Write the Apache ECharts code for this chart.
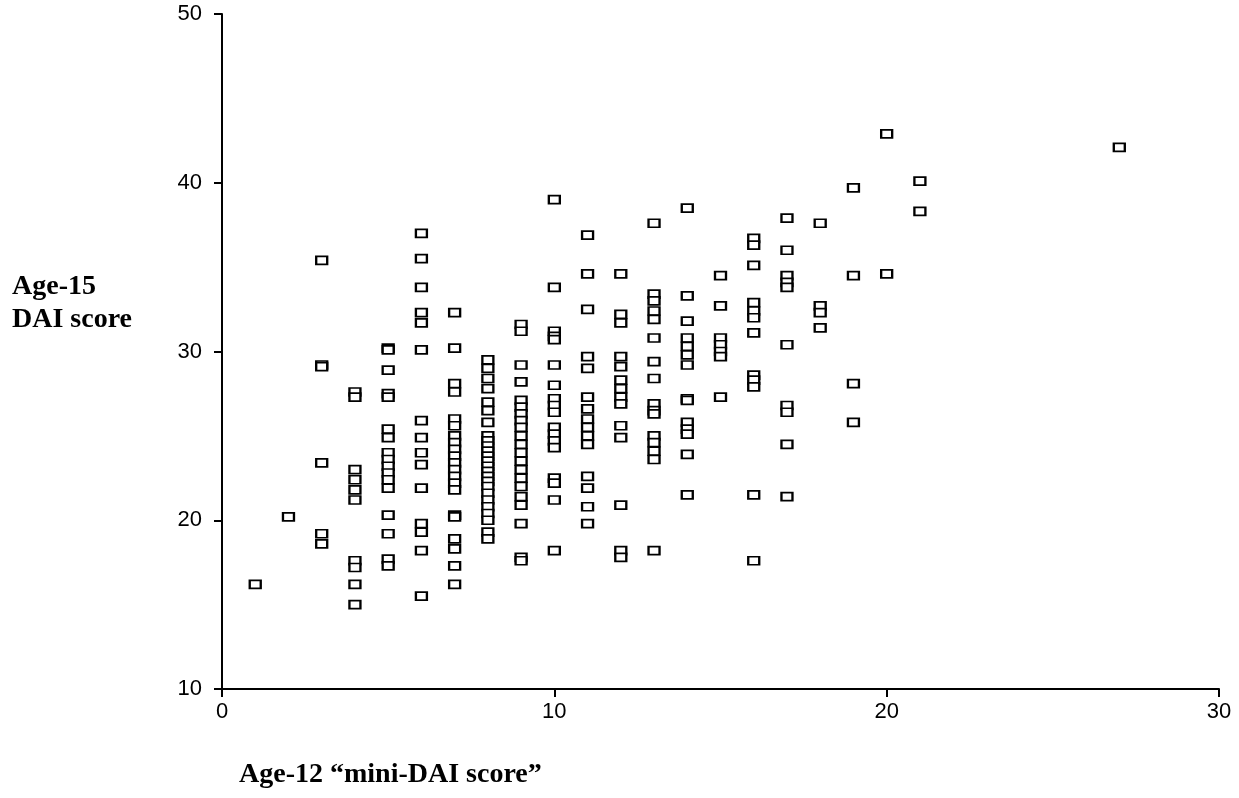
<!DOCTYPE html>
<html>
<head>
<meta charset="utf-8">
<script src="https://cdn.jsdelivr.net/npm/echarts@6/dist/echarts.min.js"></script>
<style>
    html, body { margin: 0; padding: 0; background: #fff; }
    #chart { width: 1239px; height: 798px; }
</style>
</head>
<body>
<div id="chart"></div>
<script>
const miniDaiScores = [1, 2, 3, 4, 5, 6, 7, 8, 9, 10, 11, 12, 13, 14, 15, 16, 17, 18, 19, 20, 21, 27]
const daiScores = [
    [16.2],
    [20.2],
    [35.4, 29.2, 29.1, 23.4, 19.2, 18.6],
    [27.6, 27.3, 23.0, 22.4, 21.8, 21.2, 17.6, 17.2, 16.2, 15.0],
    [30.2, 30.1, 28.9, 27.5, 27.3, 25.4, 24.9, 24.0, 23.6, 23.2, 22.8, 22.4, 21.9, 20.3, 19.2, 17.7, 17.3],
    [37.0, 35.5, 33.8, 32.3, 31.7, 30.1, 25.9, 24.9, 24.0, 23.3, 21.9, 19.8, 19.3, 18.2, 15.5],
    [32.3, 30.2, 28.1, 27.6, 26.0, 25.6, 25.0, 24.6, 24.2, 23.8, 23.4, 23.0, 22.6, 22.2, 21.8, 20.3, 20.2, 18.9, 18.3, 17.3, 16.2],
    [29.5, 29.0, 28.4, 27.8, 27.0, 26.5, 25.8, 25.0, 24.7, 24.4, 24.1, 23.8, 23.5, 23.2, 22.9, 22.6, 22.3, 22.0, 21.6, 21.2, 20.8, 20.4, 20.0, 19.3, 18.9],
    [31.6, 31.2, 29.2, 28.2, 27.1, 26.7, 26.3, 25.9, 25.5, 25.0, 24.5, 24.0, 23.5, 23.0, 22.5, 22.0, 21.4, 20.9, 19.8, 17.8, 17.6],
    [39.0, 33.8, 31.2, 30.9, 30.7, 29.2, 28.0, 27.2, 26.8, 26.4, 25.5, 25.1, 24.7, 24.3, 22.5, 22.2, 21.2, 18.2],
    [36.9, 34.6, 32.5, 29.7, 29.0, 27.3, 26.6, 26.0, 25.5, 25.0, 24.5, 22.6, 21.9, 20.8, 19.8],
    [34.6, 32.2, 31.7, 29.7, 29.1, 28.3, 27.8, 27.3, 26.9, 25.6, 24.9, 20.9, 18.2, 17.8],
    [37.6, 33.4, 33.0, 32.4, 31.9, 30.8, 29.4, 28.4, 26.9, 26.5, 26.3, 25.0, 24.6, 24.1, 23.6, 18.2],
    [38.5, 33.3, 31.8, 30.8, 30.3, 29.8, 29.2, 27.2, 27.1, 25.8, 25.4, 25.1, 23.9, 21.5],
    [34.5, 32.7, 30.8, 30.4, 30.0, 29.7, 27.3],
    [36.7, 36.3, 35.1, 32.9, 32.4, 32.0, 31.1, 28.6, 28.3, 27.9, 21.5, 17.6],
    [37.9, 36.0, 34.5, 34.1, 33.8, 30.4, 26.8, 26.4, 24.5, 21.4],
    [37.6, 32.7, 32.3, 31.4],
    [39.7, 34.5, 28.1, 25.8],
    [42.9, 34.6],
    [40.1, 38.3],
    [42.1]
]
const xTicks = [0, 10, 20, 30]
const yTicks = [10, 20, 30, 40, 50]

// 拼成 [x, y] 点
const points = []
miniDaiScores.forEach((x, i) => {
    daiScores[i].forEach((y) => points.push([x, y]))
})

const cs = echarts.init(document.getElementById('chart'))

const axisFont = {
    color: '#000',
    fontFamily: 'Liberation Sans',
    fontSize: 22
}
const nameFont = {
    fill: '#000',
    fontFamily: 'Liberation Serif',
    fontWeight: 'bold',
    fontSize: 28
}

const option = {
    backgroundColor: '#fff',
    animation: false,
    grid: {
        left: 222,
        right: 20,
        top: 14,
        bottom: 109
    },
    xAxis: {
        type: 'value',
        min: xTicks[0],
        max: xTicks[xTicks.length - 1],
        interval: 10,
        splitLine: { show: false },
        axisLine: { lineStyle: { color: '#000', width: 2 } },
        axisTick: { length: 8, lineStyle: { color: '#000', width: 2 } },
        axisLabel: Object.assign({ margin: 12 }, axisFont)
    },
    yAxis: {
        type: 'value',
        min: yTicks[0],
        max: yTicks[yTicks.length - 1],
        interval: 10,
        splitLine: { show: false },
        axisLine: { show: true, lineStyle: { color: '#000', width: 2 } },
        axisTick: { show: true, length: 8, lineStyle: { color: '#000', width: 2 } },
        axisLabel: Object.assign({ margin: 20 }, axisFont)
    },
    graphic: [
        {
            type: 'text',
            left: 12,
            top: 270,
            style: Object.assign({ text: 'Age-15\nDAI score', lineHeight: 33 }, nameFont)
        },
        {
            type: 'text',
            left: 239,
            top: 761,
            style: Object.assign({ text: 'Age-12 “mini-DAI score”' }, nameFont)
        }
    ],
    series: [
        {
            type: 'scatter',
            data: points,
            symbol: 'rect',
            symbolSize: [11, 8],
            itemStyle: {
                color: '#fff',
                borderColor: '#000',
                borderWidth: 2,
                opacity: 1
            }
        }
    ]
}
cs.setOption(option)
</script>
</body>
</html>
